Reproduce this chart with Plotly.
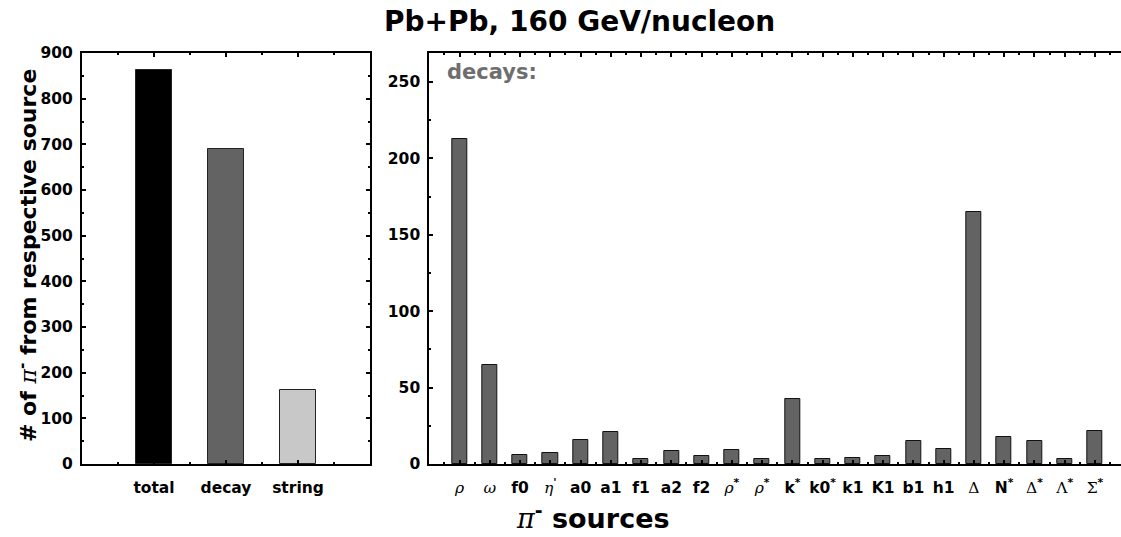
import plotly.graph_objects as go

# ---- data ----
left_cats = ["total", "decay", "string"]
left_vals = [862, 689, 163]
left_colors = ["#000000", "#636363", "#c8c8c8"]

right_labels = ["ρ", "ω", "f0", "η'", "a0", "a1", "f1", "a2", "f2", "ρ*", "ρ*",
                "k*", "k0*", "k1", "K1", "b1", "h1", "Δ", "N*", "Δ*", "Λ*", "Σ*"]
right_vals = [213, 64.5, 6, 7, 15.5, 20.7, 3, 8.7, 5, 8.9, 3.5,
              42.5, 3.3, 3.7, 5.2, 14.8, 9.6, 165, 17.6, 14.8, 3.5, 21.4]

SERIF_I = "<span style=\"font-family:'DejaVu Serif';font-style:italic;font-weight:normal\">{}</span>"
SERIF_U = "<span style=\"font-family:'DejaVu Serif';font-weight:normal\">{}</span>"
italic_greek = {"ρ", "ω", "η"}
upright_greek = {"Δ", "Λ", "Σ"}


def fmt(lbl):
    base = lbl.rstrip("*'")
    suf = lbl[len(base):]
    if base in italic_greek:
        s = SERIF_I.format(base)
    elif base in upright_greek:
        s = SERIF_U.format(base)
    else:
        s = base
    if suf:
        s += "<sup>" + suf + "</sup>"
    return s


right_text = [fmt(l) for l in right_labels]
left_x = list(range(1, len(left_cats) + 1))
right_x = list(range(1, len(right_labels) + 1))

fig = go.Figure()
fig.add_trace(go.Bar(x=left_x, y=left_vals, marker=dict(color=left_colors,
                     line=dict(color="#222", width=1)), width=0.51,
                     xaxis="x", yaxis="y", showlegend=False))
fig.add_trace(go.Bar(x=right_x, y=right_vals, marker=dict(color="#636363",
                     line=dict(color="#111", width=1)), width=0.5,
                     xaxis="x2", yaxis="y2", showlegend=False))

W, H = 1121, 537
ml, mr, mt, mb = 82, 0, 53, 73
pw = W - ml - mr
ph = H - mt - mb


def px(x):
    return (x - ml) / pw


def py(y):
    return (H - mb - y) / ph


tickfont = dict(family="DejaVu Sans", size=15.5, color="black", weight="bold")
axcommon = dict(showline=True, linecolor="black", linewidth=2, ticks="inside",
                tickcolor="black", showgrid=False, zeroline=False, tickfont=tickfont)

fig.update_layout(
    width=W, height=H, paper_bgcolor="white", plot_bgcolor="white",
    margin=dict(l=ml, r=mr, t=mt, b=mb),
    bargap=0,
    xaxis=dict(domain=[0, px(370)], range=[0, 4], tickvals=left_x,
               ticktext=left_cats, ticklen=4, tickwidth=2, mirror="ticks",
               ticklabelstandoff=8,
               minor=dict(dtick=0.5, tick0=0.5, ticklen=2, tickcolor="black", ticks="inside"),
               **axcommon),
    yaxis=dict(domain=[0, 1], range=[0, 900], dtick=100, ticklen=4, tickwidth=2,
               mirror="ticks", ticklabelstandoff=4,
               minor=dict(dtick=50, ticklen=2, tickcolor="black", ticks="inside"),
               **axcommon),
    xaxis2=dict(domain=[px(429.3), 1], range=[0, 22.86], tickvals=right_x,
                ticktext=right_text, ticklen=4, tickwidth=2, mirror="ticks", anchor="y2",
                ticklabelstandoff=8,
                minor=dict(dtick=0.5, tick0=0.5, ticklen=2, tickcolor="black", ticks="inside"),
                **axcommon),
    yaxis2=dict(domain=[0, 1], range=[0, 269], dtick=50, ticklen=4, tickwidth=2,
                anchor="x2", mirror=False, ticklabelstandoff=4,
                minor=dict(dtick=25, ticklen=2, tickcolor="black", ticks="inside"),
                **axcommon),
)

fig.add_annotation(text="Pb+Pb, 160 GeV/nucleon", x=px(579), y=py(21),
                   xref="paper", yref="paper", xanchor="center", yanchor="middle",
                   showarrow=False, font=dict(family="DejaVu Sans", size=28, color="black", weight="bold"))
fig.add_annotation(text="decays:", x=px(445), y=py(72), xref="paper", yref="paper",
                   xanchor="left", yanchor="middle", showarrow=False,
                   font=dict(family="DejaVu Sans", size=21, color="#6e6e6e", weight="bold"))
fig.add_annotation(text="# of <span style=\"font-family:'DejaVu Serif';font-style:italic;font-weight:normal\">π</span><sup>-</sup> from respective source",
                   x=px(27), y=py(256), xref="paper", yref="paper", textangle=-90,
                   xanchor="center", yanchor="middle", showarrow=False,
                   font=dict(family="DejaVu Sans", size=22, color="black", weight="bold"))
fig.add_annotation(text="<span style=\"font-family:'DejaVu Serif';font-style:italic;font-weight:normal\">π</span><sup>-</sup> sources",
                   x=px(593), y=py(516), xref="paper", yref="paper",
                   xanchor="center", yanchor="middle", showarrow=False,
                   font=dict(family="DejaVu Sans", size=27, color="black", weight="bold"))

fig.write_html("out.html")
